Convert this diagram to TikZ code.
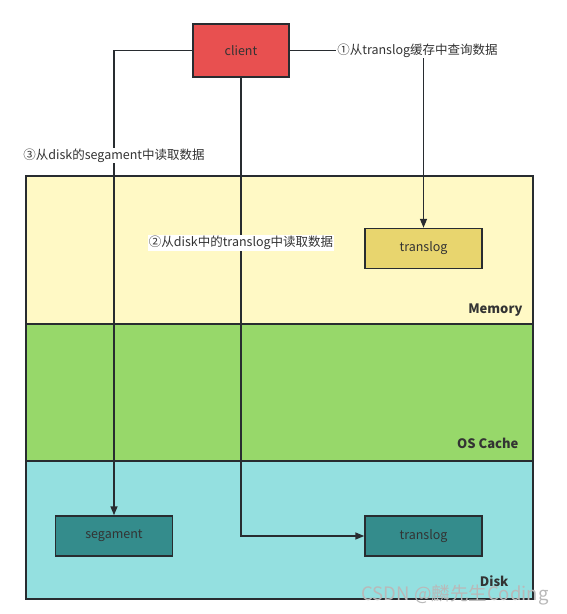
\documentclass[tikz,border=0pt]{standalone}
\usepackage{fontspec}
\setmainfont{Noto Sans CJK SC}
\usetikzlibrary{arrows.meta,positioning}
\definecolor{clientred}{RGB}{232,80,80}
\definecolor{memyellow}{RGB}{255,249,197}
\definecolor{cachegreen}{RGB}{151,216,106}
\definecolor{diskcyan}{RGB}{148,224,224}
\definecolor{logyellow}{RGB}{232,213,110}
\definecolor{diskteal}{RGB}{52,140,140}
\definecolor{linegray}{RGB}{40,44,48}
\definecolor{textgray}{RGB}{51,51,51}
\tikzset{
  box/.style={draw=linegray, line width=1.5pt, minimum width=117pt,
    minimum height=40pt, inner sep=0pt, text=textgray,
    font=\fontsize{12.5}{14}\selectfont},
  band/.style={draw=linegray, line width=1.5pt, minimum width=507pt,
    anchor=north west, inner sep=0pt},
  tier/.style={anchor=east, text=textgray,
    font=\fontsize{13}{15}\selectfont\bfseries},
  flow/.style={draw=linegray, line width=1.5pt,
    -{Triangle[length=9pt,width=7pt]}},
  note/.style={fill=white, text=textgray, inner sep=1pt,
    font=\fontsize{12.5}{14}\selectfont}
}
\begin{document}
\begin{tikzpicture}[x=1pt, y=-1pt]
  \useasboundingbox[fill=white] (0, 0) rectangle (567, 614);
  % Storage layers, from memory down to disk.
  \node[band, fill=memyellow, minimum height=148pt] (memory) at (25, 175) {};
  \node[band, fill=cachegreen, minimum height=137pt] (oscache) at (25, 323) {};
  \node[band, fill=diskcyan, minimum height=138pt] (disk) at (25, 460) {};
  \node[tier] (memlabel) at (526, 310) {Memory};
  \node[tier] (cachelabel) at (522, 443) {OS Cache};
  \node[tier] (disklabel) at (512, 581) {Disk};
  % The client and the places it reads from.
  \node[box, fill=clientred, minimum width=96pt, minimum height=53pt]
    (client) at (241, 50.5) {client};
  \node[box, fill=logyellow] (memlog) at (423.5, 248.5) {translog};
  \node[box, fill=diskteal] (segament) at (114, 536) {segament};
  \node[box, fill=diskteal] (disklog) at (423.5, 536) {translog};
  % Read paths, numbered in order.
  \draw[flow] (client.east) -|
    node[note, pos=0.5, xshift=-6pt] (step1) {①从translog缓存中查询数据} (memlog.north);
  \draw[flow] (client.south) |-
    node[note, pos=0.18] (step2) {②从disk中的translog中读取数据} (disklog.west);
  \draw[flow] (client.west) -|
    node[note, pos=0.613] (step3) {③从disk的segament中读取数据} (segament.north);
  % Watermark.
  \node[text=gray!55, font=\fontsize{18.5}{20}\selectfont] (mark) at (455, 595)
    {CSDN @麟先生Coding};
\end{tikzpicture}
\end{document}
